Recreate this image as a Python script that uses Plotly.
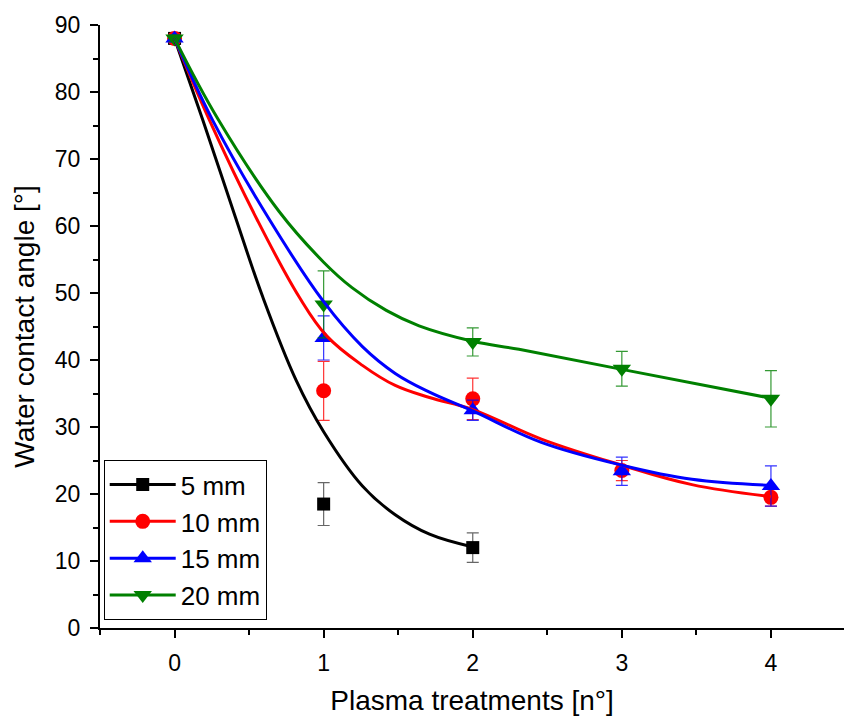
import plotly.graph_objects as go

# Measured points
series_names = ["5 mm", "10 mm", "15 mm", "20 mm"]
colors = ["#000000", "#ff0000", "#0000ff", "#008000"]
err_colors = ["rgba(0,0,0,0.6)", "rgba(255,0,0,0.8)", "rgba(0,0,255,0.8)", "rgba(0,128,0,0.8)"]
symbols = ["square", "circle", "triangle-up", "triangle-down"]
marker_sizes = [13, 15, 16, 16]

x_5 = [0, 1, 2]
y_5 = [88.0, 18.5, 12.0]
e_5 = [0.5, 3.2, 2.2]

x_10 = [0, 1, 2, 3, 4]
y_10 = [88.0, 35.4, 34.2, 23.5, 19.5]
e_10 = [0.5, 4.4, 3.1, 1.5, 1.3]

x_15 = [0, 1, 2, 3, 4]
y_15 = [88.0, 43.3, 32.5, 23.4, 21.2]
e_15 = [0.5, 3.3, 1.5, 2.1, 3.0]

x_20 = [0, 1, 2, 3, 4]
y_20 = [88.0, 48.3, 42.7, 38.7, 34.2]
e_20 = [0.5, 5.0, 2.1, 2.6, 4.2]

# Fitted curves
cx_5 = [0, 0.19, 0.41, 0.59, 0.815, 1.0, 1.26, 1.48, 1.71, 2.0]
cy_5 = [88.0, 75.8, 61.2, 49.5, 37.0, 29.3, 21.2, 16.9, 14.0, 12.1]

cx_10 = [0, 0.234, 0.555, 0.836, 1.02, 1.26, 1.48, 1.71, 2.0, 2.46, 3.0, 3.47, 4.0]
cy_10 = [88.0, 75.8, 60.9, 49.4, 43.6, 39.2, 36.2, 34.4, 32.6, 28.2, 24.3, 21.4, 19.6]

cx_15 = [0, 0.255, 0.635, 1.0, 1.26, 1.48, 1.71, 2.0, 2.46, 3.0, 3.47, 4.0]
cy_15 = [88.0, 75.8, 61.0, 48.7, 42.0, 38.0, 35.2, 32.4, 27.7, 24.3, 22.2, 21.3]

cx_20 = [0, 0.29, 0.70, 1.0, 1.19, 1.42, 1.64, 2.0, 2.31, 3.0, 4.0]
cy_20 = [88.0, 76.0, 62.2, 54.6, 50.8, 47.4, 45.1, 42.8, 41.6, 38.6, 34.3]

points = [(x_5, y_5, e_5), (x_10, y_10, e_10), (x_15, y_15, e_15), (x_20, y_20, e_20)]
curves = [(cx_5, cy_5), (cx_10, cy_10), (cx_15, cy_15), (cx_20, cy_20)]

fig = go.Figure()

for i, (px, py, pe) in enumerate(points):
    fig.add_trace(go.Scatter(
        x=px, y=py, mode="markers", showlegend=False,
        marker=dict(symbol=symbols[i], size=marker_sizes[i], color=colors[i], line=dict(width=0)),
        error_y=dict(type="data", array=pe, visible=True, color=err_colors[i], thickness=1.2, width=6),
    ))

for i, (cx, cy) in enumerate(curves):
    fig.add_trace(go.Scatter(
        x=cx, y=cy, mode="lines", showlegend=False,
        line=dict(color=colors[i], width=3, shape="spline", smoothing=1.1),
    ))

for i, name in enumerate(series_names):
    fig.add_trace(go.Scatter(
        x=[None], y=[None], mode="lines+markers", name=name,
        line=dict(color=colors[i], width=3),
        marker=dict(symbol=symbols[i], size=marker_sizes[i], color=colors[i]),
    ))

font_family = "Liberation Sans, Arial, sans-serif"

fig.update_layout(
    width=844, height=718,
    margin=dict(l=100, r=0, t=25, b=90),
    plot_bgcolor="white", paper_bgcolor="white",
    font=dict(family=font_family, color="black", size=23),
    showlegend=True,
    legend=dict(
        x=0.005, y=0.013, xanchor="left", yanchor="bottom",
        bordercolor="black", borderwidth=1, bgcolor="white",
        font=dict(size=26, family=font_family),
        itemwidth=66, tracegroupgap=0,
    ),
    xaxis=dict(
        range=[-0.5, 4.49], showgrid=False, zeroline=False,
        showline=True, linecolor="black", linewidth=2,
        ticks="outside", ticklen=8, tickwidth=2, tickcolor="black",
        tickmode="array", tickvals=[0, 1, 2, 3, 4],
        ticklabelstandoff=5,
        minor=dict(ticks="outside", ticklen=5, tickwidth=2, tickcolor="black", dtick=0.5, tick0=-0.5, showgrid=False),
        tickfont=dict(size=23),
        title=dict(text="Plasma treatments [n°]", font=dict(size=28), standoff=16),
    ),
    yaxis=dict(
        range=[0, 90], showgrid=False, zeroline=False,
        showline=True, linecolor="black", linewidth=2,
        ticks="outside", ticklen=8, tickwidth=2, tickcolor="black",
        dtick=10, tick0=0,
        ticklabelstandoff=5,
        minor=dict(ticks="outside", ticklen=5, tickwidth=2, tickcolor="black", dtick=5, showgrid=False),
        tickfont=dict(size=23),
        title=dict(text="Water contact angle [°]", font=dict(size=28), standoff=12),
    ),
)

fig.write_html("out.html")
